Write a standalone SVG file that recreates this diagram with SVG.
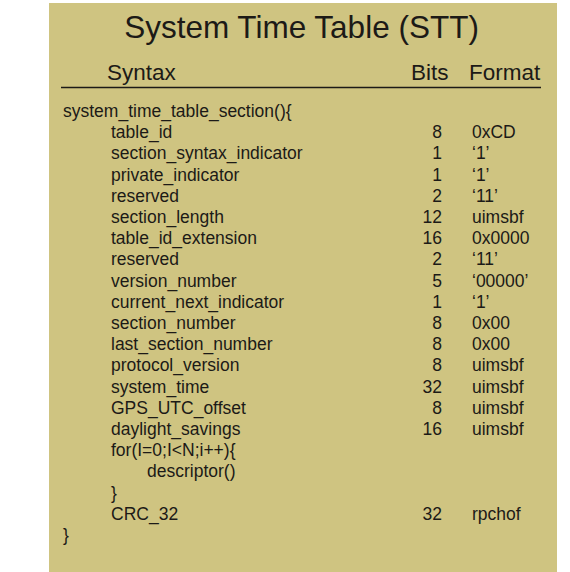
<svg xmlns="http://www.w3.org/2000/svg" width="570" height="572" viewBox="0 0 570 572">
  <style>
    text { font-family: "Liberation Sans", Arial, sans-serif; fill: #1c1a17; }
    .title { font-size: 31.5px; text-anchor: middle; }
    .head { font-size: 22.5px; }
    .row { font-size: 17.5px; }
    .bits { font-size: 17.5px; text-anchor: end; }
  </style>
  <rect x="49" y="3" width="508" height="569" fill="#cfc481"/>

  <g id="header">
    <text class="title" x="301.5" y="37.5">System Time Table (STT)</text>
    <text class="head" x="107" y="80">Syntax</text>
    <text class="head" x="411" y="80">Bits</text>
    <text class="head" x="469" y="80">Format</text>
    <line x1="61" y1="87.5" x2="541" y2="87.5" stroke="#1c1a17" stroke-width="1.3"/>
  </g>

  <!-- syntax column -->
  <g id="syntax" class="row">
    <text class="row" x="63" y="117">system_time_table_section(){</text>
    <text class="row" x="111" y="138.2">table_id</text>
    <text class="row" x="111" y="159.4">section_syntax_indicator</text>
    <text class="row" x="111" y="180.6">private_indicator</text>
    <text class="row" x="111" y="201.8">reserved</text>
    <text class="row" x="111" y="223">section_length</text>
    <text class="row" x="111" y="244.2">table_id_extension</text>
    <text class="row" x="111" y="265.4">reserved</text>
    <text class="row" x="111" y="286.6">version_number</text>
    <text class="row" x="111" y="307.8">current_next_indicator</text>
    <text class="row" x="111" y="329">section_number</text>
    <text class="row" x="111" y="350.2">last_section_number</text>
    <text class="row" x="111" y="371.4">protocol_version</text>
    <text class="row" x="111" y="392.6">system_time</text>
    <text class="row" x="111" y="413.8">GPS_UTC_offset</text>
    <text class="row" x="111" y="435">daylight_savings</text>
    <text class="row" x="111" y="456.2">for(I=0;I&lt;N;i++){</text>
    <text class="row" x="147" y="477.4">descriptor()</text>
    <text class="row" x="111" y="498.6">}</text>
    <text class="row" x="111" y="519.8">CRC_32</text>
    <text class="row" x="63" y="541">}</text>
  </g>

  <!-- bit counts, right aligned -->
  <g id="bits">
    <text class="bits" x="442" y="138.2">8</text>
    <text class="bits" x="442" y="159.4">1</text>
    <text class="bits" x="442" y="180.6">1</text>
    <text class="bits" x="442" y="201.8">2</text>
    <text class="bits" x="442" y="223">12</text>
    <text class="bits" x="442" y="244.2">16</text>
    <text class="bits" x="442" y="265.4">2</text>
    <text class="bits" x="442" y="286.6">5</text>
    <text class="bits" x="442" y="307.8">1</text>
    <text class="bits" x="442" y="329">8</text>
    <text class="bits" x="442" y="350.2">8</text>
    <text class="bits" x="442" y="371.4">8</text>
    <text class="bits" x="442" y="392.6">32</text>
    <text class="bits" x="442" y="413.8">8</text>
    <text class="bits" x="442" y="435">16</text>
    <text class="bits" x="442" y="519.8">32</text>
  </g>

  <!-- formats -->
  <g id="format">
    <text class="row" x="472" y="138.2">0xCD</text>
    <text class="row" x="472" y="159.4">‘1’</text>
    <text class="row" x="472" y="180.6">‘1’</text>
    <text class="row" x="472" y="201.8">‘11’</text>
    <text class="row" x="472" y="223">uimsbf</text>
    <text class="row" x="472" y="244.2">0x0000</text>
    <text class="row" x="472" y="265.4">‘11’</text>
    <text class="row" x="472" y="286.6">‘00000’</text>
    <text class="row" x="472" y="307.8">‘1’</text>
    <text class="row" x="472" y="329">0x00</text>
    <text class="row" x="472" y="350.2">0x00</text>
    <text class="row" x="472" y="371.4">uimsbf</text>
    <text class="row" x="472" y="392.6">uimsbf</text>
    <text class="row" x="472" y="413.8">uimsbf</text>
    <text class="row" x="472" y="435">uimsbf</text>
    <text class="row" x="472" y="519.8">rpchof</text>
  </g>
</svg>
